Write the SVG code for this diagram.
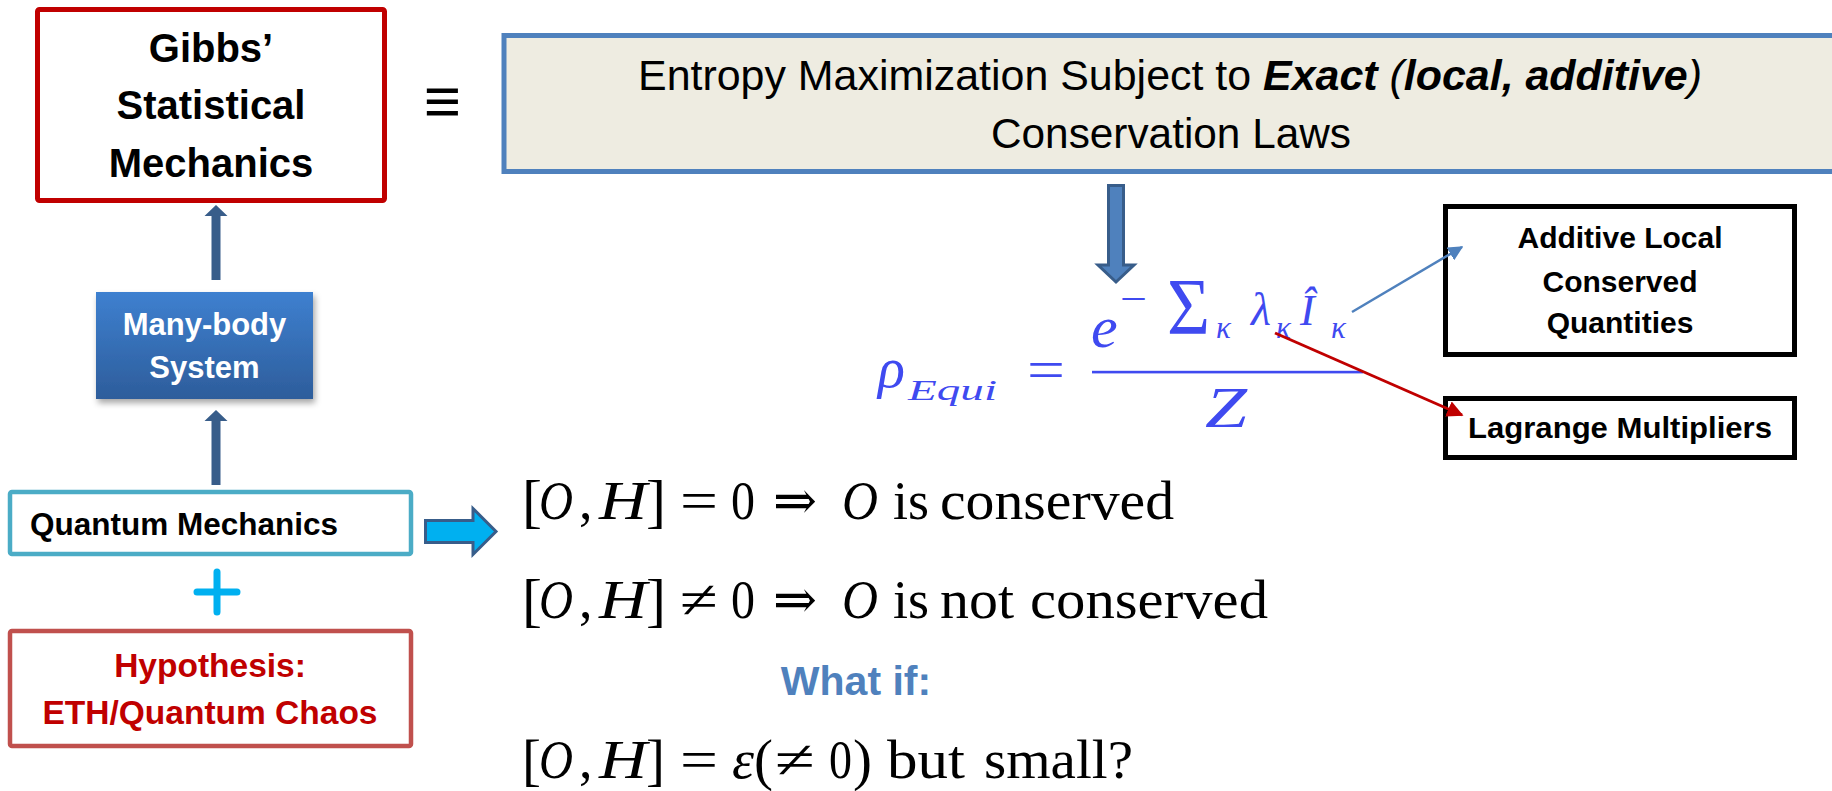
<svg xmlns="http://www.w3.org/2000/svg" width="1832" height="791" viewBox="0 0 1832 791">
<defs>
<linearGradient id="mbGrad" x1="0" y1="0" x2="0" y2="1">
<stop offset="0" stop-color="#3E80D0"/>
<stop offset="1" stop-color="#2D5D9B"/>
</linearGradient>
<filter id="shadow" x="-10%" y="-10%" width="130%" height="140%">
<feDropShadow dx="2" dy="4" stdDeviation="3" flood-color="#000" flood-opacity="0.35"/>
</filter>
<marker id="arrBlue" viewBox="0 0 10 10" refX="9" refY="5" markerWidth="6" markerHeight="6" markerUnits="strokeWidth" orient="auto">
<path d="M0,0 L10,5 L0,10 z" fill="#4F81BD"/>
</marker>
<marker id="arrRed" viewBox="0 0 10 10" refX="9" refY="5" markerWidth="5.5" markerHeight="5.5" markerUnits="strokeWidth" orient="auto">
<path d="M0,0 L10,5 L0,10 z" fill="#C00000"/>
</marker>
</defs>
<style>
.sb{font-family:"Liberation Sans",Arial,sans-serif;font-weight:bold;}
.ss{font-family:"Liberation Sans",Arial,sans-serif;}
.m{font-family:"Liberation Serif","DejaVu Serif",serif;fill:#000;}
.mb{font-family:"Liberation Serif","DejaVu Serif",serif;fill:#3F4AF0;}
.it{font-style:italic;}
.br{font-size:60px;}
.blk{fill:#385D8A;}
</style>
<rect width="1832" height="791" fill="#FFFFFF"/>

<g id="gibbs">
<rect x="37.5" y="9.5" width="347" height="191" rx="2" fill="#FFFFFF" stroke="#C00000" stroke-width="5"/>
<text class="sb" x="211" y="62" font-size="40" text-anchor="middle">Gibbs’</text>
<text class="sb" x="211" y="119" font-size="40" text-anchor="middle">Statistical</text>
<text class="sb" x="211" y="177" font-size="40" text-anchor="middle">Mechanics</text>
</g>

<g id="equiv">
<text class="ss" x="442.5" y="123" font-size="64" text-anchor="middle">≡</text>
</g>

<g id="entropy">
<rect x="504" y="35.5" width="1340" height="136" fill="#EEECE1" stroke="#4F81BD" stroke-width="5"/>
<text class="ss" x="1170" y="90" font-size="42" text-anchor="middle" textLength="1064" lengthAdjust="spacingAndGlyphs">Entropy Maximization Subject to <tspan font-weight="bold" font-style="italic">Exact</tspan><tspan font-style="italic"> (</tspan><tspan font-weight="bold" font-style="italic">local, additive</tspan><tspan font-style="italic">)</tspan></text>
<text class="ss" x="1171" y="148" font-size="42" text-anchor="middle" textLength="360" lengthAdjust="spacingAndGlyphs">Conservation Laws</text>
</g>

<g id="manybody">
<rect x="96" y="292" width="217" height="107" fill="url(#mbGrad)" filter="url(#shadow)"/>
<text class="sb" x="204.5" y="335" font-size="31" fill="#FFFFFF" text-anchor="middle">Many-body</text>
<text class="sb" x="204.5" y="378" font-size="31" fill="#FFFFFF" text-anchor="middle">System</text>
</g>

<g id="qm">
<rect x="10" y="492" width="401" height="62" rx="2" fill="#FFFFFF" stroke="#4BACC6" stroke-width="4.5"/>
<text class="sb" x="30" y="535" font-size="31.5">Quantum Mechanics</text>
</g>

<g id="plus">
<path d="M197,592 H237 M217,572 V612" stroke="#00B0F0" stroke-width="7" stroke-linecap="round" fill="none"/>
</g>

<g id="hypothesis">
<rect x="10" y="631" width="401" height="115" rx="2" fill="#FFFFFF" stroke="#C0504D" stroke-width="4.5"/>
<text class="sb" x="210" y="677" font-size="33.5" fill="#C00000" text-anchor="middle">Hypothesis:</text>
<text class="sb" x="210" y="724" font-size="33.5" fill="#C00000" text-anchor="middle">ETH/Quantum Chaos</text>
</g>

<g id="formula">
<text class="mb it" x="878" y="387" font-size="56">ρ</text>
<text class="mb it" x="908" y="400" font-size="30" textLength="89" lengthAdjust="spacingAndGlyphs">Equi</text>
<text class="mb" x="1027" y="389" font-size="58" textLength="38" lengthAdjust="spacingAndGlyphs">=</text>
<rect x="1092" y="370.8" width="271" height="2.6" fill="#3F4AF0"/>
<text class="mb it" x="1091" y="347" font-size="60">e</text>
<text class="mb" x="1120" y="312" font-size="40" textLength="27" lengthAdjust="spacingAndGlyphs">−</text>
<text class="mb" x="1167" y="334" font-size="80" textLength="43" lengthAdjust="spacingAndGlyphs">Σ</text>
<text class="mb it" x="1216" y="338" font-size="31">κ</text>
<text class="mb it" x="1251" y="325" font-size="46">λ</text>
<text class="mb it" x="1276" y="338" font-size="31">κ</text>
<text class="mb it" x="1300" y="325" font-size="44">Î</text>
<text class="mb it" x="1331" y="338" font-size="31">κ</text>
<text class="mb it" x="1205" y="427" font-size="58" textLength="42" lengthAdjust="spacingAndGlyphs">Z</text>
</g>

<g id="additive">
<rect x="1445.5" y="206.5" width="349" height="148" fill="#FFFFFF" stroke="#000000" stroke-width="5"/>
<text class="sb" x="1620" y="248" font-size="30" text-anchor="middle">Additive Local</text>
<text class="sb" x="1620" y="292" font-size="30" text-anchor="middle">Conserved</text>
<text class="sb" x="1620" y="333" font-size="30" text-anchor="middle">Quantities</text>
</g>

<g id="lagrange">
<rect x="1445.5" y="398.5" width="349" height="59" fill="#FFFFFF" stroke="#000000" stroke-width="5"/>
<text class="sb" x="1620" y="438" font-size="30" text-anchor="middle" textLength="304" lengthAdjust="spacingAndGlyphs">Lagrange Multipliers</text>
</g>

<g id="commutators">
<text class="m" y="519" font-size="54"><tspan class="br" x="522" y="521">[</tspan><tspan x="539" y="519" class="it" textLength="34" lengthAdjust="spacingAndGlyphs">O</tspan><tspan x="579">,</tspan><tspan x="599" class="it" textLength="48" lengthAdjust="spacingAndGlyphs">H</tspan><tspan class="br" x="646" y="521">]</tspan><tspan x="680" y="519" textLength="38" lengthAdjust="spacingAndGlyphs">=</tspan><tspan x="731" textLength="24" lengthAdjust="spacingAndGlyphs">0</tspan><tspan x="773" textLength="44" lengthAdjust="spacingAndGlyphs">⇒</tspan><tspan x="842" class="it" textLength="36" lengthAdjust="spacingAndGlyphs">O</tspan><tspan x="893">is</tspan><tspan x="940" textLength="234" lengthAdjust="spacingAndGlyphs">conserved</tspan></text>
<text class="m" y="618" font-size="54"><tspan class="br" x="522" y="620">[</tspan><tspan x="539" y="618" class="it" textLength="34" lengthAdjust="spacingAndGlyphs">O</tspan><tspan x="579">,</tspan><tspan x="599" class="it" textLength="48" lengthAdjust="spacingAndGlyphs">H</tspan><tspan class="br" x="646" y="620">]</tspan><tspan x="680" y="618" textLength="38" lengthAdjust="spacingAndGlyphs">≠</tspan><tspan x="731" textLength="24" lengthAdjust="spacingAndGlyphs">0</tspan><tspan x="773" textLength="44" lengthAdjust="spacingAndGlyphs">⇒</tspan><tspan x="842" class="it" textLength="36" lengthAdjust="spacingAndGlyphs">O</tspan><tspan x="893">is</tspan><tspan x="940" textLength="74" lengthAdjust="spacingAndGlyphs">not</tspan><tspan x="1030" textLength="238" lengthAdjust="spacingAndGlyphs">conserved</tspan></text>
<text class="sb" x="856" y="695" font-size="41" fill="#4F81BD" text-anchor="middle">What if:</text>
<text class="m" y="778" font-size="54"><tspan x="522" y="779" font-size="57">[</tspan><tspan x="539" y="778" class="it" textLength="34" lengthAdjust="spacingAndGlyphs">O</tspan><tspan x="579">,</tspan><tspan x="599" class="it" textLength="48" lengthAdjust="spacingAndGlyphs">H</tspan><tspan x="646" y="779" font-size="57">]</tspan><tspan x="680" y="778" textLength="38" lengthAdjust="spacingAndGlyphs">=</tspan><tspan x="732" class="it" textLength="22" lengthAdjust="spacingAndGlyphs">ε</tspan><tspan x="754" y="779" font-size="57">(</tspan><tspan x="775" y="778" textLength="40" lengthAdjust="spacingAndGlyphs">≠</tspan><tspan x="829" textLength="23" lengthAdjust="spacingAndGlyphs">0</tspan><tspan x="853" y="779" font-size="57">)</tspan><tspan x="887" y="778" textLength="78" lengthAdjust="spacingAndGlyphs">but</tspan><tspan x="984" textLength="149" lengthAdjust="spacingAndGlyphs">small?</tspan></text>
</g>

<g id="connectors">
<polygon class="blk" points="211.5,280 220.5,280 220.5,216 227.5,216 216,205 204.5,216 211.5,216"/>
<polygon class="blk" points="211.5,485 220.5,485 220.5,421 227.5,421 216,410 204.5,421 211.5,421"/>
<polygon points="425.5,520.5 473,520.5 473,508.5 496,531.5 473,554.5 473,542.5 425.5,542.5" fill="#00B0F0" stroke="#385D8A" stroke-width="3" stroke-linejoin="miter"/>
<polygon points="1108.5,185.5 1123.5,185.5 1123.5,265 1134,265 1116,282 1098,265 1108.5,265" fill="#4F81BD" stroke="#385D8A" stroke-width="3"/>
<line x1="1352" y1="312" x2="1462" y2="247" stroke="#4F81BD" stroke-width="2.5" marker-end="url(#arrBlue)"/>
<line x1="1275" y1="333" x2="1462" y2="415" stroke="#C00000" stroke-width="3" marker-end="url(#arrRed)"/>
</g>
</svg>
